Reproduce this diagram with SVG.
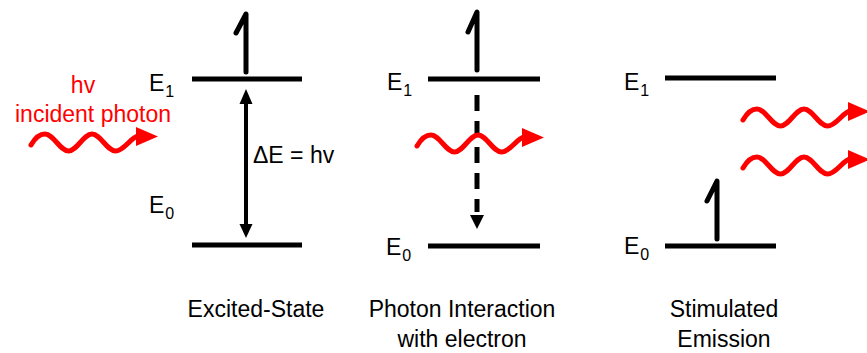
<svg xmlns="http://www.w3.org/2000/svg" xmlns:xlink="http://www.w3.org/1999/xlink" width="867" height="353" viewBox="0 0 867 353">
<style>
  .lvl{stroke:#000;stroke-width:5;fill:none}
  .el{stroke:#000;stroke-width:5;fill:none;stroke-linejoin:round;stroke-linecap:round}
  .t{font-family:"Liberation Sans",Arial,sans-serif;font-size:23px;fill:#000}
  .sub{font-size:16px}
  .red{fill:#ff0000}
  .wave{stroke:#ff0000;stroke-width:5;fill:none;stroke-linecap:round}
  .lbl{font-family:"Liberation Sans",Arial,sans-serif;font-size:23px;fill:#000;text-anchor:middle}
</style>
<defs>
  <g id="photon">
    <path class="wave" d="M-14,11 C-10,4 -5,0 0,0 C8.5,0 15,17 23.5,17 C32,17 38.5,0 47,0 C55.5,0 62,17 70.5,17 C79,17 86,3 93,2"/>
    <polygon class="red" points="91,-7 113,2.5 91,12"/>
  </g>
</defs>
<rect width="867" height="353" fill="#fff"/>

<g id="panel-excited">
  <line class="lvl" x1="192" y1="79" x2="302" y2="79"/>
  <line class="lvl" x1="192" y1="245" x2="302" y2="245"/>
  <path class="el" d="M236,33 L246,14 L246,72"/>
  <text class="t" x="149" y="91">E<tspan class="sub" dx="1" dy="6">1</tspan></text>
  <text class="t" x="149" y="213">E<tspan class="sub" dx="1" dy="6">0</tspan></text>
  <text class="t" x="253" y="163">ΔE = hv</text>
  <text class="lbl" x="256" y="317">Excited-State</text>
</g>

<g id="panel-interaction">
  <line class="lvl" x1="428" y1="79" x2="540" y2="79"/>
  <line class="lvl" x1="428" y1="246" x2="540" y2="246"/>
  <path class="el" d="M468,32 L477,12 L477,70"/>
  <text class="t" x="387" y="90">E<tspan class="sub" dx="1" dy="6">1</tspan></text>
  <text class="t" x="386" y="255">E<tspan class="sub" dx="1" dy="6">0</tspan></text>
  <text class="lbl" x="462" y="317">Photon Interaction</text>
  <text class="lbl" x="462" y="347">with electron</text>
</g>

<g id="panel-emission">
  <line class="lvl" x1="665" y1="78" x2="776" y2="78"/>
  <line class="lvl" x1="665" y1="246" x2="776" y2="246"/>
  <path class="el" d="M707,201 L717,181 L717,239"/>
  <text class="t" x="624" y="90">E<tspan class="sub" dx="1" dy="6">1</tspan></text>
  <text class="t" x="624" y="254">E<tspan class="sub" dx="1" dy="6">0</tspan></text>
  <text class="lbl" x="724" y="317">Stimulated</text>
  <text class="lbl" x="724" y="347">Emission</text>
</g>

<g id="incident-label">
  <text class="t red" x="83" y="93" text-anchor="middle">hv</text>
  <text class="t red" x="93" y="122" text-anchor="middle">incident photon</text>
</g>

<g id="connectors">
  <line x1="246" y1="100" x2="246" y2="228" stroke="#000" stroke-width="4"/>
  <polygon points="239.5,104 246,89 252.5,104" fill="#000"/>
  <polygon points="239.5,224 246,238 252.5,224" fill="#000"/>
  <line x1="477" y1="95" x2="477" y2="212" stroke="#000" stroke-width="5" stroke-dasharray="16 10"/>
  <polygon points="470,215 477,229 484,215" fill="#000"/>
  <use xlink:href="#photon" href="#photon" transform="translate(45,134)"/>
  <use xlink:href="#photon" href="#photon" transform="translate(431,135)"/>
  <use xlink:href="#photon" href="#photon" transform="translate(757,109)"/>
  <use xlink:href="#photon" href="#photon" transform="translate(757,157)"/>
</g>
</svg>
